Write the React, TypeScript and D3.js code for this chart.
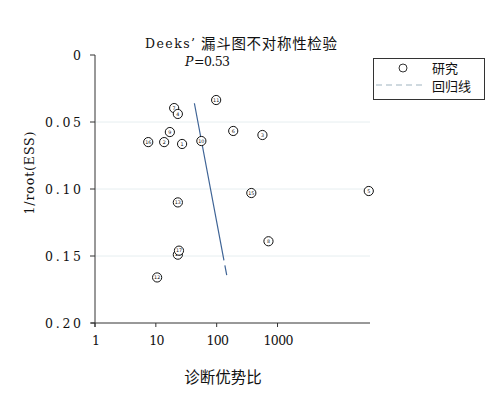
import React from 'react';
import { scaleLinear, scaleLog } from 'd3';

const studyIds = ['7', '4', '11', '9', '6', '3', '16', '2', '1', '10', '15', '5', '13', '8', '14', '17', '12'];
const dorValues = [20, 23, 98, 17, 187, 565, 7.5, 13.7, 27, 56, 371, 31600, 23, 710, 23, 24, 10.5];
const essValues = [0.0396, 0.044, 0.0336, 0.0575, 0.0567, 0.0597, 0.065, 0.065, 0.0664, 0.0642, 0.103, 0.1015, 0.110, 0.139, 0.149, 0.146, 0.166];
const regX = [43, 150];
const regY = [0.036, 0.167];
const yTicks = [0, 0.05, 0.1, 0.15, 0.2];
const yTickLabels = ['0', '0.05', '0.10', '0.15', '0.20'];
const xTicks = [1, 10, 100, 1000];

const W = 497;
const H = 396;
const font = "'DejaVu Serif', 'Noto Sans CJK SC', serif";
const cjk = "'Noto Sans CJK SC', sans-serif";

export default function App() {
  const x = scaleLog().domain([1, Math.pow(10, 4.52)]).range([95, 370]);
  const y = scaleLinear().domain([0, 0.2]).range([55, 323]);

  return (
    <svg width={W} height={H} style={{ position: 'absolute', left: 0, top: 0 }} fontFamily={font}>
      <rect width={W} height={H} fill="#fff" />
      {/* grid */}
      {yTicks.slice(1, 4).map(t => (
        <line key={t} x1={x(1)} x2={x.range()[1]} y1={y(t)} y2={y(t)} stroke="#e6eef0" strokeWidth={1} />
      ))}
      {/* title */}
      <text x={145} y={48} fontSize={12.5} fill="#111" textLength={50} lengthAdjust="spacing">Deeks’</text>
      <text x={201} y={49} fontSize={14.5} fontFamily={cjk} fill="#111" textLength={136} lengthAdjust="spacing">漏斗图不对称性检验</text>
      <text x={185} y={66} fontSize={12.5} fontStyle="italic" fill="#111">P</text>
      <text x={194} y={66} fontSize={12.5} fill="#111" textLength={36} lengthAdjust="spacing">=0.53</text>
      {/* axes */}
      <line x1={95} x2={95} y1={y(0)} y2={y(0.2) + 4} stroke="#333" />
      <line x1={91} x2={x.range()[1]} y1={y(0.2)} y2={y(0.2)} stroke="#333" />
      {yTicks.map((t, i) => (
        <g key={t}>
          <line x1={90} x2={95} y1={y(t)} y2={y(t)} stroke="#333" />
          <text x={81} y={y(t) + 5} textAnchor="end" fontSize={12.5} fill="#111"
            textLength={yTickLabels[i].length === 1 ? 8 : 36} lengthAdjust="spacing">{yTickLabels[i]}</text>
        </g>
      ))}
      {xTicks.map(t => (
        <g key={t}>
          <line x1={x(t)} x2={x(t)} y1={y(0.2)} y2={y(0.2) + 4} stroke="#333" />
          <text x={x(t) + 1} y={y(0.2) + 22} textAnchor="middle" fontSize={12.5} fill="#111"
            textLength={String(t).length * 7.5} lengthAdjust="spacing">{t}</text>
        </g>
      ))}
      <text transform={`translate(34,173) rotate(-90)`} textAnchor="middle" fontSize={12.5} fill="#111"
        textLength={83} lengthAdjust="spacing">1/root(ESS)</text>
      <text x={223} y={383} textAnchor="middle" fontSize={15.5} fontFamily={cjk} fill="#111">诊断优势比</text>
      {/* regression line */}
      <line x1={x(regX[0])} y1={y(regY[0])} x2={x(regX[1])} y2={y(regY[1])} stroke="#3f6496" strokeWidth={1.2} strokeDasharray="160 5 10 5" />
      {/* studies */}
      {studyIds.map((id, i) => (
        <g key={id} transform={`translate(${x(dorValues[i])},${y(essValues[i])})`}>
          <circle r={4.6} fill="#fff" stroke="#111" strokeWidth={1} />
          <text y={1.8} textAnchor="middle" fontSize={4.8} fontFamily="'DejaVu Sans', sans-serif" fill="#111">{id}</text>
        </g>
      ))}
      {/* legend */}
      <rect x={373.5} y={58.5} width={111} height={41} fill="#fff" stroke="#333" />
      <circle cx={403} cy={68} r={4} fill="#fff" stroke="#333" />
      <text x={432} y={73} fontSize={13} fontFamily={cjk} fill="#111">研究</text>
      <line x1={376} x2={423} y1={85} y2={85} stroke="#9fb3c0" strokeWidth={1.2} strokeDasharray="6 4" />
      <text x={432} y={91} fontSize={13} fontFamily={cjk} fill="#111">回归线</text>
    </svg>
  );
}
